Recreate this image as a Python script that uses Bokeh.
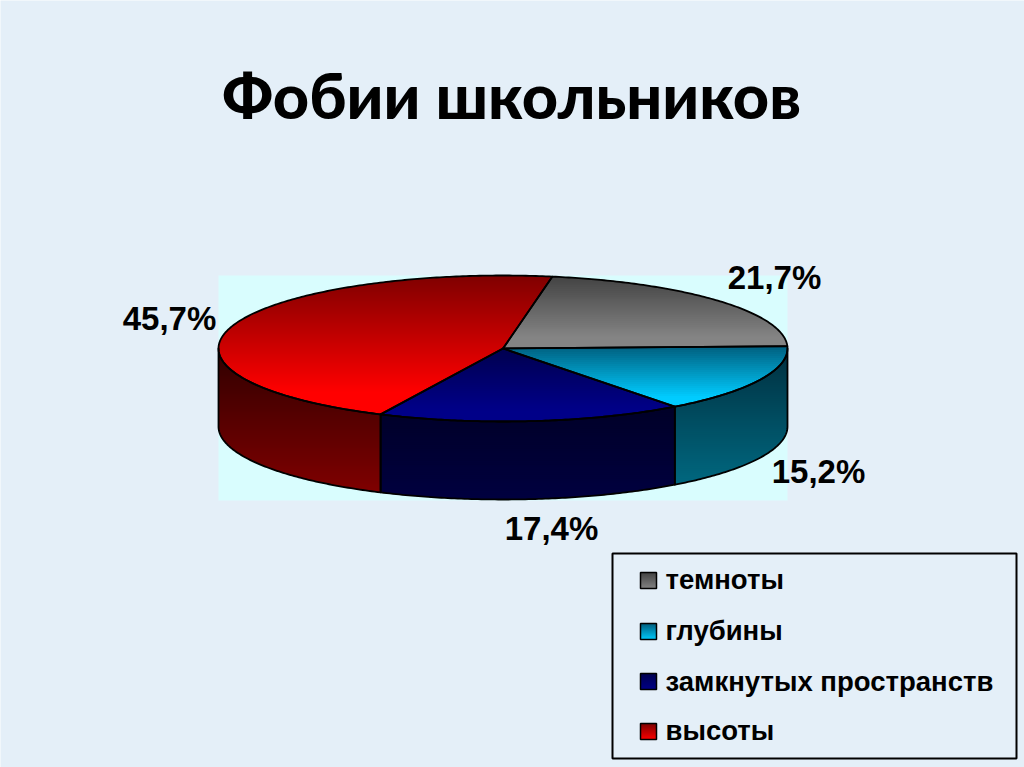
import math
import numpy as np
from bokeh.plotting import figure
from bokeh.models import Range1d
from bokeh.embed import file_html
from bokeh.resources import INLINE

title_text = "Фобии школьников"
categories = ["темноты", "глубины", "замкнутых пространств", "высоты"]
values = [21.7, 15.2, 17.4, 45.7]
value_labels = ["21,7%", "15,2%", "17,4%", "45,7%"]
top_light = ["#848484", "#00ccff", "#000088", "#ff0000"]
top_dark = ["#444444", "#006080", "#000050", "#800000"]
wall_top = ["#222222", "#003040", "#000028", "#300000"]
wall_bottom = ["#444444", "#006880", "#000040", "#800000"]

BG = "#e4eff8"
CX, CY, RX, RY, DEPTH = 502.5, 348.0, 284.5, 73.0, 78.0
START = 80.0

p = figure(width=1024, height=767, output_backend="svg", toolbar_location=None,
           x_range=Range1d(0, 1024), y_range=Range1d(767, 0),
           min_border=0, outline_line_color=None, background_fill_color=BG,
           border_fill_color=BG)
p.axis.visible = False
p.grid.visible = False


def clip(poly, y0, y1):
    def half(pts, keep, cross):
        out = []
        for i in range(len(pts)):
            a, b = pts[i], pts[(i + 1) % len(pts)]
            if keep(a):
                out.append(a)
            if keep(a) != keep(b):
                t = (cross - a[1]) / (b[1] - a[1])
                out.append((a[0] + t * (b[0] - a[0]), cross))
        return out
    r = half(poly, lambda q: q[1] >= y0, y0)
    if r:
        r = half(r, lambda q: q[1] <= y1, y1)
    return r


def mix(c0, c1, t):
    t = max(0.0, min(1.0, t))
    a = [int(c0[i:i + 2], 16) for i in (1, 3, 5)]
    b = [int(c1[i:i + 2], 16) for i in (1, 3, 5)]
    return "#%02x%02x%02x" % tuple(round(u + (v - u) * t) for u, v in zip(a, b))


def shaded(poly, c0, c1, step=2.0, reach=1.0):
    ys = [q[1] for q in poly]
    lo, hi = min(ys), max(ys)
    xs_all, ys_all, cols = [], [], []
    y = lo
    while y < hi:
        part = clip(poly, y, min(y + step + 0.7, hi))
        if len(part) >= 3:
            xs_all.append([q[0] for q in part])
            ys_all.append([q[1] for q in part])
            cols.append(mix(c0, c1, reach * (y - lo) / max(hi - lo, 1)))
        y += step
    p.patches(xs_all, ys_all, fill_color=cols, line_color=None)


def pt(deg, dy=0.0):
    r = math.radians(deg)
    return (CX + RX * math.cos(r), CY - RY * math.sin(r) + dy)


# pale chart-area rectangle
p.quad(left=[218], right=[787], top=[275], bottom=[500], fill_color="#d9fdfe", line_color=None)

# slice angles from the values
edges = [START]
for v in values:
    edges.append(edges[-1] - v * 3.6)

outlines = []
for i in range(len(values)):
    a0, a1 = edges[i], edges[i + 1]
    b0, b1 = min(a0, 0), max(a1, -180)
    if b0 > b1:
        n = max(int((b0 - b1) * 1.5), 2)
        angs = np.linspace(b0, b1, n)
        wall = [pt(a) for a in angs] + [pt(a, DEPTH) for a in angs[::-1]]
        shaded(wall, wall_top[i], wall_bottom[i])
        outlines.append(wall)

for i in range(len(values)):
    a0, a1 = edges[i], edges[i + 1]
    n = max(int((a0 - a1) * 1.5), 2)
    face = [(CX, CY)] + [pt(a) for a in np.linspace(a0, a1, n)]
    shaded(face, top_dark[i], top_light[i], reach=1.2)
    outlines.append(face)

p.patches([[q[0] for q in o] for o in outlines], [[q[1] for q in o] for o in outlines],
          fill_color=None, line_color="#000000", line_width=1.8, line_join="round")

# title and value labels
p.text(x=[511], y=[94], text=[title_text], text_font=["'Lato Black', Lato"], text_font_style="bold",
       text_font_size="63px", text_align="center", text_baseline="alphabetic", text_color="#000000")
p.text(x=[774, 818, 551, 169], y=[277, 471, 528, 318], text=value_labels,
       text_font=["Liberation Sans"] * 4, text_font_style="bold", text_font_size="33px",
       text_align="center", text_baseline="alphabetic", text_color="#000000")

# legend
p.quad(left=[612], right=[1016], top=[553], bottom=[758], fill_color=None,
       line_color="#000000", line_width=2)
swatch_top = [572, 623, 673, 723]
baselines = [579, 630, 681, 730]
for i in range(len(categories)):
    box = [(640, swatch_top[i]), (656, swatch_top[i]), (656, swatch_top[i] + 16), (640, swatch_top[i] + 16)]
    shaded(box, top_dark[i], top_light[i], step=1.0)
    p.patches([[q[0] for q in box]], [[q[1] for q in box]], fill_color=None,
              line_color="#000000", line_width=1.5)
p.text(x=[665] * 4, y=baselines, text=categories, text_font=["Liberation Sans"] * 4,
       text_font_style="bold", text_font_size="27.5px", text_align="left",
       text_baseline="alphabetic", text_color="#000000")

open("out.html", "w").write(file_html(p, INLINE))
